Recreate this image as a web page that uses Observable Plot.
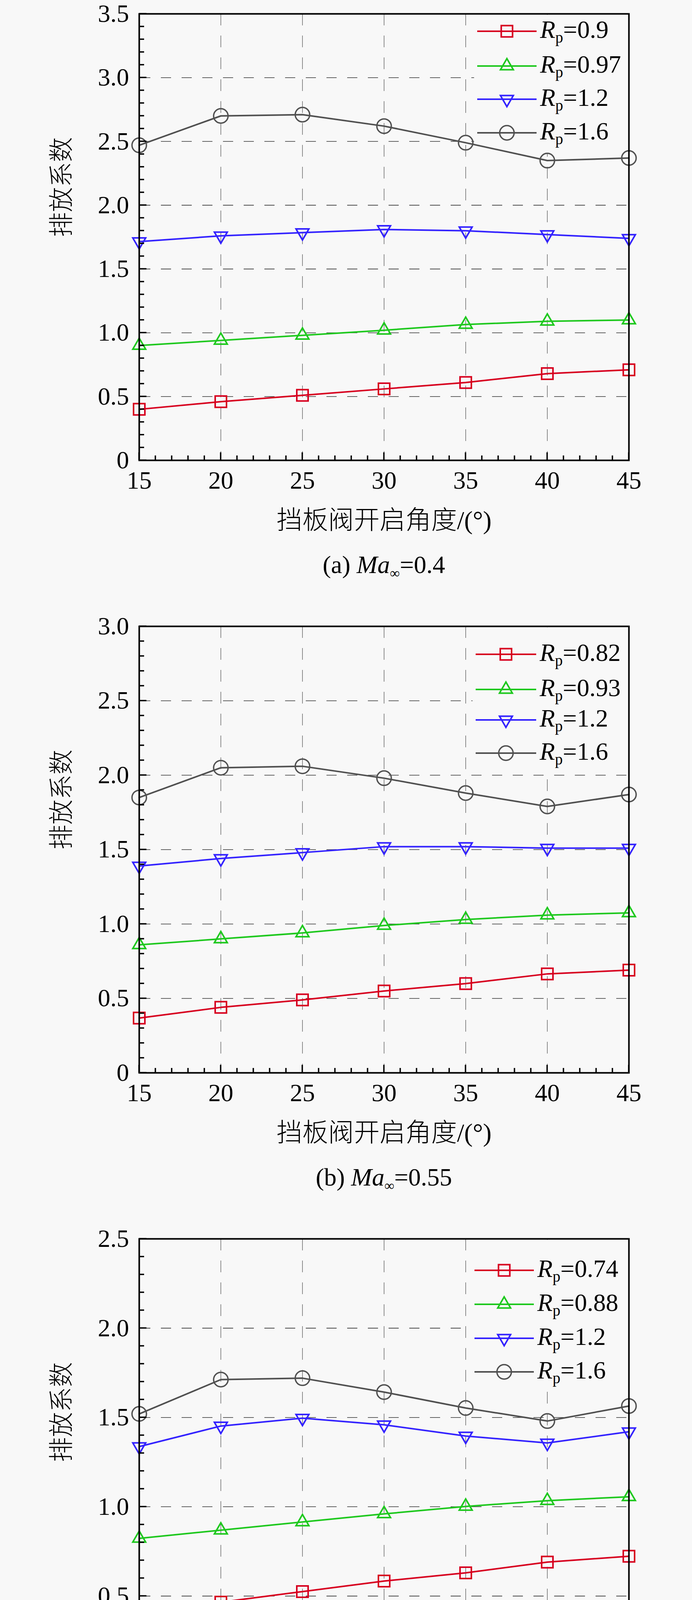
<!DOCTYPE html>
<html><head><meta charset="utf-8">
<script src="https://cdn.jsdelivr.net/npm/d3@7"></script>
<script src="https://cdn.jsdelivr.net/npm/@observablehq/plot@0.6"></script>
<style>
html,body{margin:0;padding:0;background:#f8f8f8;}
#root{position:relative;width:1772px;height:6199px;background:#f8f8f8;}
.panel{position:absolute;left:0;width:1772px;height:1568px;}
.cap{position:absolute;top:1406px;left:356px;width:1254px;height:80px;line-height:80px;text-align:center;
 font-family:"Liberation Serif","Times New Roman",serif;font-size:64px;color:#000;white-space:nowrap;}
.cap i{font-style:italic;}
.cap .sb{font-size:0.55em;position:relative;top:0.35em;}
</style>
</head><body><div id="root"></div>
<script>
// ---------- data ----------
const angles = [15, 20, 25, 30, 35, 40, 45];
const xTicks = [15, 20, 25, 30, 35, 40, 45];
const xGrid = [20, 25, 30, 35, 40];
const seriesColors = ["#d7001f", "#1ec81e", "#3322ff", "#505050"];
const panelLetters = ["a", "b", "c", "d"];
const machValues = ["0.4", "0.55", "0.7", "0.85"];
const yTitle = "排放系数";
const xTitle = "挡板阀开启角度/(°)";

const yTicksA = [0, 0.5, 1.0, 1.5, 2.0, 2.5, 3.0, 3.5];
const yTicksB = [0, 0.5, 1.0, 1.5, 2.0, 2.5, 3.0];
const yTicksC = [0, 0.5, 1.0, 1.5, 2.0, 2.5];
const yTicksD = [0, 0.5, 1.0, 1.5, 2.0];

const rpLabelsA = ["0.9", "0.97", "1.2", "1.6"];
const rpLabelsB = ["0.82", "0.93", "1.2", "1.6"];
const rpLabelsC = ["0.74", "0.88", "1.2", "1.6"];
const rpLabelsD = ["0.64", "0.88", "1.2", "1.6"];

// (a) Ma=0.4
const a_rp1 = [0.40, 0.46, 0.51, 0.56, 0.61, 0.68, 0.71];
const a_rp2 = [0.90, 0.94, 0.98, 1.02, 1.065, 1.09, 1.10];
const a_rp3 = [1.715, 1.76, 1.785, 1.81, 1.80, 1.77, 1.74];
const a_rp4 = [2.47, 2.70, 2.71, 2.62, 2.49, 2.35, 2.37];
// (b) Ma=0.55
const b_rp1 = [0.368, 0.44, 0.49, 0.55, 0.60, 0.665, 0.69];
const b_rp2 = [0.86, 0.90, 0.94, 0.99, 1.03, 1.06, 1.075];
const b_rp3 = [1.39, 1.44, 1.48, 1.52, 1.52, 1.51, 1.51];
const b_rp4 = [1.85, 2.05, 2.06, 1.98, 1.88, 1.79, 1.87];
// (c) Ma=0.7
const c_rp1 = [0.40, 0.466, 0.525, 0.584, 0.63, 0.69, 0.723];
const c_rp2 = [0.823, 0.869, 0.915, 0.96, 1.002, 1.034, 1.056];
const c_rp3 = [1.337, 1.452, 1.496, 1.459, 1.396, 1.357, 1.42];
const c_rp4 = [1.52, 1.712, 1.72, 1.642, 1.553, 1.48, 1.564];
// (d) Ma=0.85
const d_rp1 = [0.32, 0.397, 0.456, 0.507, 0.552, 0.61, 0.655];
const d_rp2 = [0.81, 0.862, 0.908, 0.957, 0.986, 1.013, 1.053];
const d_rp3 = [1.198, 1.319, 1.327, 1.275, 1.217, 1.168, 1.228];
const d_rp4 = [1.29, 1.46, 1.469, 1.399, 1.32, 1.261, 1.334];

// ---------- layout / style ----------
const BG = "#f8f8f8";
const FONT = '"Liberation Serif","Times New Roman","Noto Sans CJK SC",serif';
const W = 1772, ML = 356, MR = 162, MT = 35, PH = 1143, MB = 190;
const PANEL_STEP = 1568;
const legendLayouts = [
  {x0: -388, x1: -236, rows: [45, 134, 219, 305]},
  {x0: -392, x1: -237, rows: [72, 162, 240, 325]},
  {x0: -395, x1: -243, rows: [81, 168, 255, 341]},
  {x0: -403, x1: -251, rows: [44, 131, 217, 304]}
];

const symSquare = {draw(c, s) {const r = Math.sqrt(s / Math.PI); c.moveTo(-r, -r); c.lineTo(r, -r); c.lineTo(r, r); c.lineTo(-r, r); c.closePath();}};
const symTriUp = {draw(c, s) {const h = Math.sqrt(s / Math.PI), H = h * Math.sqrt(3); c.moveTo(0, -2 * H / 3); c.lineTo(h, H / 3); c.lineTo(-h, H / 3); c.closePath();}};
const symTriDown = {draw(c, s) {const h = Math.sqrt(s / Math.PI), H = h * Math.sqrt(3); c.moveTo(0, 2 * H / 3); c.lineTo(h, -H / 3); c.lineTo(-h, -H / 3); c.closePath();}};
const symCircle = {draw(c, s) {const r = Math.sqrt(s / Math.PI); c.moveTo(r, 0); c.arc(0, 0, r, 0, 2 * Math.PI);}};
const symbols = [symSquare, symTriUp, symTriDown, symCircle];
const radii = [14.5, 16.5, 16.5, 18.5];
const markerStroke = [4, 4, 4, 3.5];

const panels = [
  {ticks: yTicksA, labels: rpLabelsA, series: [a_rp1, a_rp2, a_rp3, a_rp4]},
  {ticks: yTicksB, labels: rpLabelsB, series: [b_rp1, b_rp2, b_rp3, b_rp4]},
  {ticks: yTicksC, labels: rpLabelsC, series: [c_rp1, c_rp2, c_rp3, c_rp4]},
  {ticks: yTicksD, labels: rpLabelsD, series: [d_rp1, d_rp2, d_rp3, d_rp4]}
];

function legendBg(layout) {
  return (index, scales, values, dims) => {
    const right = dims.width - dims.marginRight, top = dims.marginTop;
    return d3.create("svg:rect")
      .attr("x", right + layout.x0 - 8).attr("y", top + 3)
      .attr("width", -layout.x0 + 8 - 3).attr("height", layout.rows[3] + 48)
      .attr("fill", BG).node();
  };
}

function legendMark(labels, layout) {
  return (index, scales, values, dims) => {
    const right = dims.width - dims.marginRight, top = dims.marginTop;
    const g = d3.create("svg:g").attr("text-anchor", "start");
    labels.forEach((lab, i) => {
      const y = top + layout.rows[i];
      const x0 = right + layout.x0, x1 = right + layout.x1, xm = (x0 + x1) / 2;
      g.append("line").attr("x1", x0).attr("x2", x1).attr("y1", y).attr("y2", y)
        .attr("stroke", seriesColors[i]).attr("stroke-width", 4);
      const p = d3.path(); symbols[i].draw(p, Math.PI * radii[i] * radii[i]);
      g.append("path").attr("d", p.toString()).attr("transform", `translate(${xm},${y})`)
        .attr("fill", "none").attr("stroke", seriesColors[i]).attr("stroke-width", markerStroke[i]);
      const t = g.append("text").attr("x", x1 + 9).attr("y", y + 17).attr("text-anchor", "start")
        .attr("font-size", 64).attr("font-family", FONT).attr("fill", "#000");
      t.append("tspan").attr("font-style", "italic").text("R");
      t.append("tspan").attr("font-size", 40).attr("dy", 12).text("p");
      t.append("tspan").attr("dy", -12).text("=" + lab);
    });
    return g.node();
  };
}

function tickMarks(yMax) {
  return (index, scales, values, dims) => {
    const x = scales.x, y = scales.y;
    const g = d3.create("svg:g").attr("stroke", "#000").attr("stroke-width", 3.5);
    const L = dims.marginLeft, B = dims.height - dims.marginBottom;
    const yMinor = d3.range(0, yMax + 1e-9, 0.1);
    yMinor.forEach((v, i) => {
      const len = (i % 5 === 0) ? 19 : 13;
      g.append("line").attr("x1", L).attr("x2", L + len).attr("y1", y(v)).attr("y2", y(v));
    });
    d3.range(15, 45.5, 1).forEach(v => {
      const len = (v % 5 === 0) ? 20 : 12;
      g.append("line").attr("x1", x(v)).attr("x2", x(v)).attr("y1", B).attr("y2", B - len);
    });
    return g.node();
  };
}

const root = document.getElementById("root");
panels.forEach((pn, k) => {
  const yMax = pn.ticks[pn.ticks.length - 1];
  const marks = [
    Plot.gridY(pn.ticks.filter(v => v > 0 && v < yMax), {stroke: "#333", strokeOpacity: 1, strokeWidth: 1.6, strokeDasharray: "26,27", strokeDashoffset: -3}),
    Plot.gridX(xGrid, {stroke: "#555", strokeOpacity: 1, strokeWidth: 1.3, strokeDasharray: "30,26"}),
    legendBg(legendLayouts[k])
  ];
  pn.series.forEach((vals, i) => {
    const rows = angles.map((a, j) => ({x: a, y: vals[j]}));
    marks.push(Plot.line(rows, {x: "x", y: "y", stroke: seriesColors[i], strokeWidth: 4}));
    marks.push(Plot.dot(rows, {x: "x", y: "y", stroke: seriesColors[i], fill: "none", strokeWidth: markerStroke[i], symbol: symbols[i], r: radii[i]}));
  });
  marks.push(
    Plot.frame({stroke: "#000", strokeWidth: 4}),
    tickMarks(yMax),
    Plot.text(pn.ticks, {y: d => d, text: d => d === 0 ? "0" : d.toFixed(1), frameAnchor: "left", textAnchor: "end", dx: -26, lineAnchor: "middle", fontSize: 64}),
    Plot.text(xTicks, {x: d => d, text: d => String(d), frameAnchor: "bottom", dy: 52, lineAnchor: "middle", fontSize: 64}),
    Plot.text([xTitle], {frameAnchor: "bottom", dy: 154, lineAnchor: "middle", fontSize: 66, fontWeight: 300}),
    Plot.text([yTitle], {frameAnchor: "left", dx: -198, rotate: -90, lineAnchor: "middle", fontSize: 64, fontWeight: 300}),
    legendMark(pn.labels, legendLayouts[k])
  );
  const svg = Plot.plot({
    width: W, height: MT + PH + MB,
    marginLeft: ML, marginRight: MR, marginTop: MT, marginBottom: MB,
    x: {domain: [15, 45], axis: null},
    y: {domain: [0, yMax], axis: null},
    style: {background: BG, fontFamily: FONT, fontSize: "64px", color: "#000", overflow: "visible"},
    marks
  });
  const div = document.createElement("div");
  div.className = "panel";
  div.style.top = (k * PANEL_STEP) + "px";
  div.appendChild(svg);
  const cap = document.createElement("div");
  cap.className = "cap";
  cap.innerHTML = `(${panelLetters[k]}) <i>Ma</i><span class="sb">∞</span>=${machValues[k]}`;
  div.appendChild(cap);
  root.appendChild(div);
});
</script>
</body></html>
